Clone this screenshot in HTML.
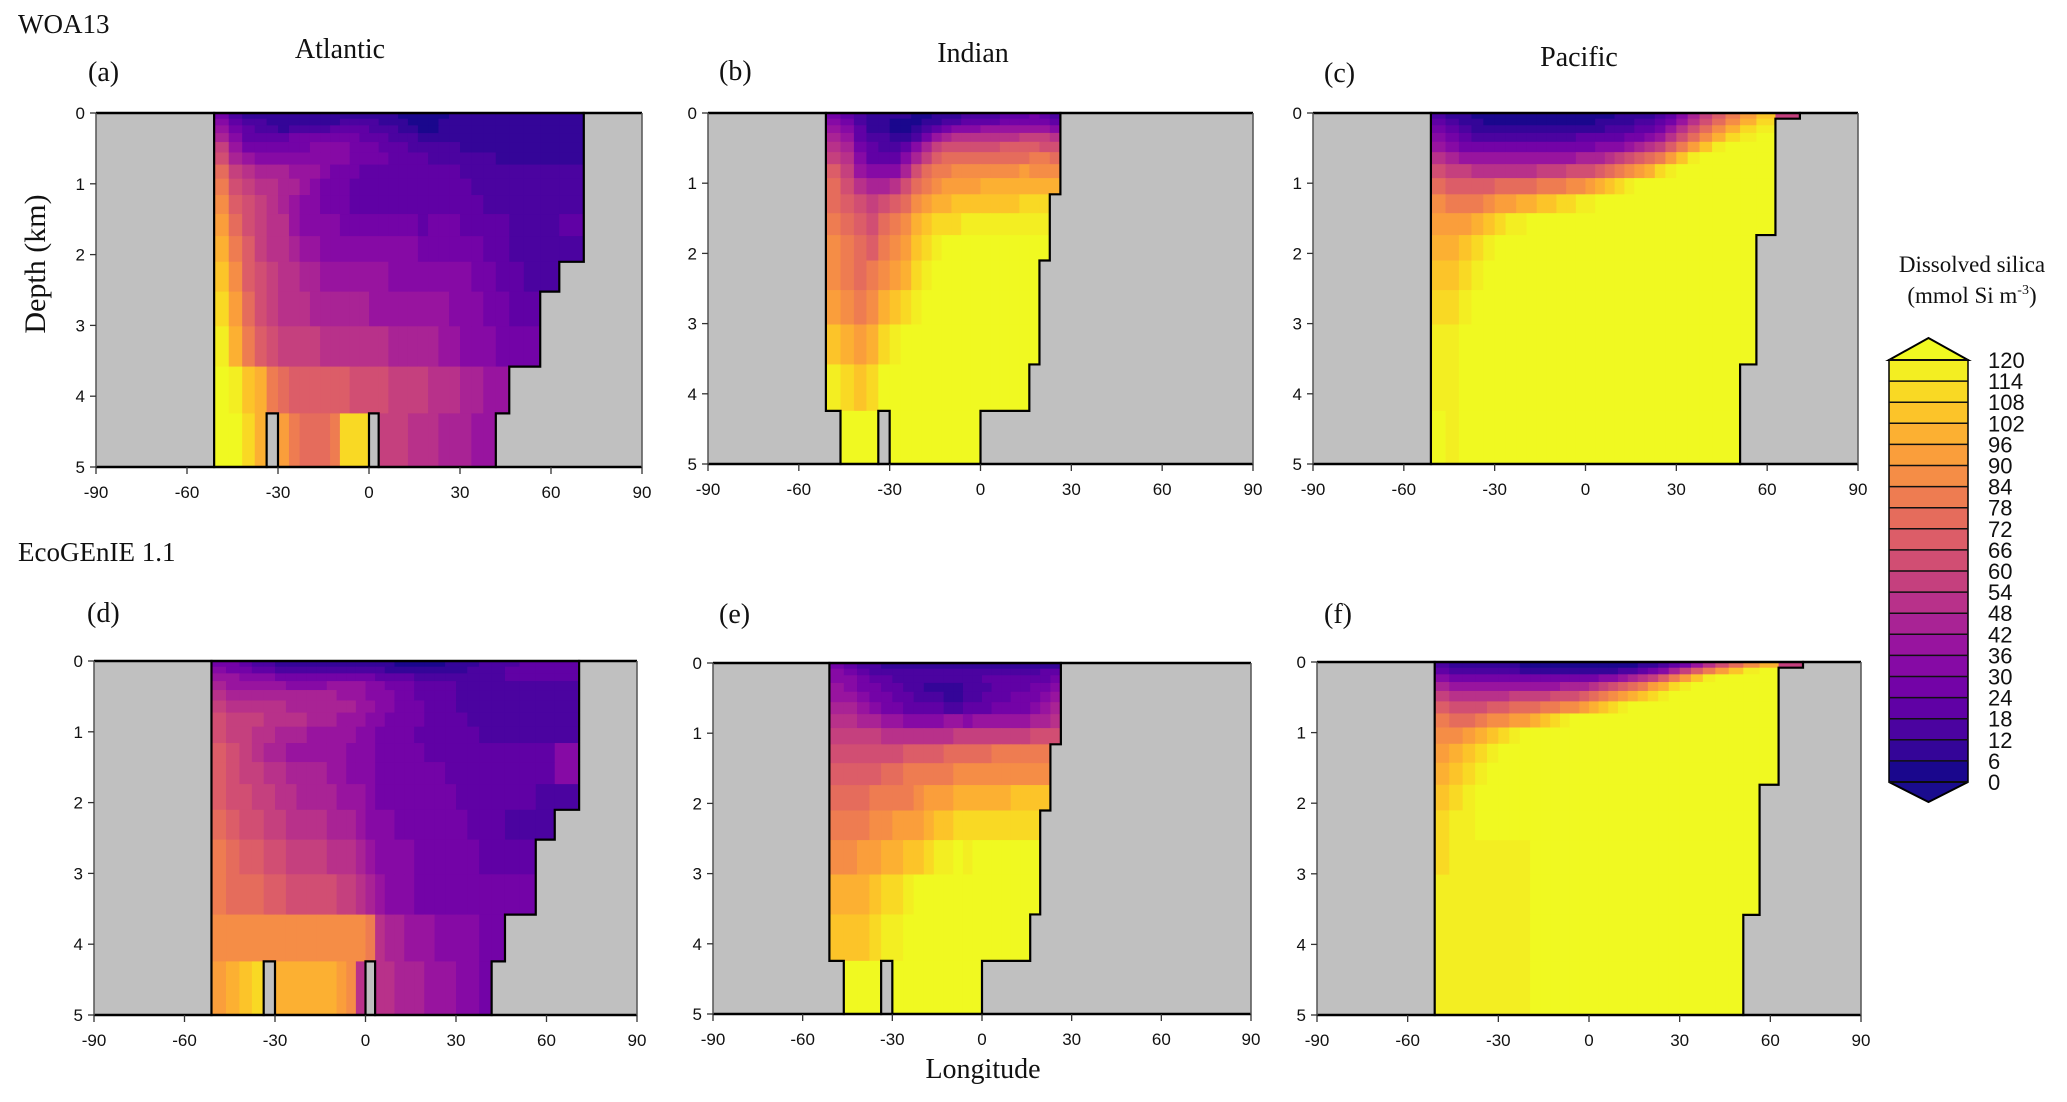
<!DOCTYPE html>
<html><head><meta charset="utf-8"><style>
html,body{margin:0;padding:0;background:#fff;}
svg{display:block;}
text{font-family:"Liberation Sans",sans-serif;fill:#111;}
.serif{font-family:"Liberation Serif",serif;}
</style></head><body>
<svg id="fig" width="2067" height="1102" viewBox="0 0 2067 1102" xmlns="http://www.w3.org/2000/svg">
<text class="serif" x="18" y="33" font-size="27">WOA13</text>
<text class="serif" x="340" y="58" font-size="28" text-anchor="middle">Atlantic</text>
<text class="serif" x="973" y="62" font-size="28" text-anchor="middle">Indian</text>
<text class="serif" x="1579" y="66" font-size="28" text-anchor="middle">Pacific</text>
<text class="serif" x="18" y="561" font-size="27">EcoGEnIE 1.1</text>
<text class="serif" x="983" y="1078" font-size="28" text-anchor="middle">Longitude</text>
<text class="serif" x="0" y="0" font-size="30" text-anchor="middle" transform="translate(45,264) rotate(-90)">Depth (km)</text>
<text class="serif" x="1972" y="272" font-size="23" text-anchor="middle">Dissolved silica</text>
<text class="serif" x="1972" y="303" font-size="23" text-anchor="middle">(mmol Si m<tspan font-size="14" dy="-9">-3</tspan><tspan dy="9">)</tspan></text>
<g id="panels"></g>
<g id="cbar"></g>
</svg>
<script>
// ---- data (codes: 0..K => bin index; value = idx*6+3) ----
const cbTicks=[0,6,12,18,24,30,36,42,48,54,60,66,72,78,84,90,96,102,108,114,120];
const xTicks=[-90,-60,-30,0,30,60,90];
const yTicks=[0,1,2,3,4,5];
const depthEdges=[0,0.0808,0.1747,0.2837,0.4104,0.5576,0.7287,0.9275,1.1585,1.4270,1.7390,2.1016,2.5230,3.0127,3.5818,4.2431,5.0];
const atlLevels=[0,0,0,0,16,16,16,16,15,16,16,16,16,16,16,16,16,16,15,16,16,16,16,16,16,16,16,16,16,16,15,14,14,12,11,0];
const indLevels=[0,0,0,0,15,16,16,16,15,16,16,16,16,16,16,16,16,16,15,15,15,15,15,14,11,8,0,0,0,0,0,0,0,0,0,0];
const pacLevels=[0,0,0,0,16,16,16,16,16,16,16,16,16,16,16,16,16,16,16,16,16,16,16,16,16,16,16,16,16,16,16,16,14,10,1,0];
const atlanticWOA=[
"4 2 1 1 1 1 1 1 1 1 1 1 1 1 1 1 1 0 0 0 0 0 1 1 1 1 1 1 1 1 1",
"5 3 2 2 1 1 1 1 1 1 1 2 2 2 2 1 1 1 0 0 0 1 1 1 1 1 1 1 1 1 1",
"6 4 3 2 2 1 2 2 2 2 3 3 3 3 2 2 2 1 1 0 0 1 1 1 1 1 1 1 1 1 1",
"7 5 3 3 3 3 4 4 4 4 4 4 4 3 3 3 2 2 2 1 1 1 1 1 1 1 1 1 1 1 1",
"9 6 4 4 4 4 4 4 5 5 5 5 4 4 4 3 3 3 2 2 2 2 2 1 1 1 1 1 1 1 1",
"A 7 6 5 5 5 5 5 5 5 5 5 4 4 4 4 3 3 3 3 2 2 2 2 2 2 1 1 1 1 1",
"C 9 8 7 7 7 6 6 6 5 4 4 4 3 3 3 3 3 3 3 3 3 3 2 2 2 2 2 2 2 2",
"D A 9 8 8 7 7 6 5 4 4 4 3 3 3 3 3 3 3 3 3 3 3 3 2 2 2 2 2 2 2",
"E B A 9 8 7 6 5 5 4 4 4 3 3 3 3 3 3 3 3 3 3 3 3 3 2 2 2 2 2 2",
"F C A 9 8 8 6 5 5 5 5 4 4 4 4 4 4 4 4 3 4 4 4 3 3 3 3 2 2 2 3",
"G D B 9 8 8 7 6 6 5 5 5 5 5 5 5 5 5 5 4 4 4 4 4 4 3 3 2 2 2 2",
"H E B A 9 8 8 7 7 6 6 6 6 6 6 6 5 5 5 5 5 5 5 5 4 4 3 3 2 2 2",
"I F C A 9 8 8 8 7 7 7 7 7 7 6 6 6 6 6 6 6 6 5 5 5 4 4 3 3 3 3",
"J G D B A 9 9 9 9 8 8 8 8 8 8 8 7 7 7 7 7 6 6 5 5 5 4 4 4 4 4",
"K J H G D C B B B B B B A A A A 9 9 9 9 8 8 8 7 7 6 6 6 6 6 6",
"K K I G G F D C C C D I I I I 9 9 9 8 8 8 7 7 7 6 6 6 6 6 6 6"];
const indianWOA=[
"4 3 2 1 1 1 1 0 0 1 1 1 2 2 2 2 3 3 3 4 3 2",
"5 4 2 1 1 0 0 0 1 1 2 2 3 3 3 3 4 4 4 4 4 3",
"6 5 3 1 1 0 0 1 2 3 4 5 5 5 6 6 6 6 6 6 6 5",
"7 6 3 2 2 1 1 2 4 6 7 8 8 8 8 8 8 8 9 9 9 8",
"8 7 4 3 2 2 3 5 7 9 A A A A A A B B B B A A",
"9 8 5 3 3 3 5 7 9 B C C C C C C C C C D D C",
"B 9 6 5 5 5 7 A C D D E E E E E E E F E E E",
"C A 8 7 7 8 A C D E F F F F G G G G G G G G",
"C B A 9 A B C E F G G H H H H H H H I I I I",
"D C B A C D E G H I I I J J J J J J J J J J",
"E D C B D E F H I J K",
"E D C D E F G I J K",
"F E D E G H I J K",
"H G F G I J K",
"J I H I K",
"K"];
const pacificWOA=[
"2 1 1 0 0 0 0 0 0 0 0 0 0 0 0 0 0 1 1 1 1 2 3 5 7 9 B D F H 9",
"3 2 1 1 0 0 0 0 0 0 0 0 0 0 0 1 1 1 1 2 2 3 4 6 8 A C E G I K",
"4 3 2 1 1 1 1 1 1 1 1 1 1 1 1 1 2 2 2 3 3 4 6 8 A C E G I J K",
"5 4 3 2 2 2 2 2 2 2 2 2 2 3 3 3 3 3 4 4 5 6 8 A C E G I J K K",
"6 5 4 4 4 4 4 4 4 4 4 4 4 4 4 5 5 5 6 7 8 9 B D F H J K",
"8 7 6 6 6 6 6 6 6 6 6 6 6 7 7 7 8 9 A B C D F H J K",
"A 9 9 8 8 8 8 8 8 9 9 9 A A A B C D E F G I J K",
"C B B B B C C C C D D D E E F G H I J K",
"E D D D E F F G G H H I I J J K",
"F F F G H I J J K",
"G G H I J K",
"H H I J K",
"I I J K",
"J J K",
"J J K",
"K J K"];
const atlanticEco=[
"4 4 3 2 2 1 1 1 1 1 1 1 1 1 1 1 1 0 0 0 0 0 1 1 1 2 2 2 3 3 3",
"5 4 4 3 3 2 2 2 2 2 2 2 2 2 2 2 1 1 1 1 1 1 1 1 2 2 2 3 3 3 3",
"6 6 5 5 5 4 4 4 4 4 4 4 4 4 4 3 3 3 3 2 2 2 2 2 2 2 2 3 3 3 3",
"7 6 6 6 6 6 5 5 5 5 6 6 6 6 5 5 4 4 4 3 3 3 3 2 2 2 2 2 2 2 2",
"8 7 7 7 7 7 7 7 7 7 7 6 6 6 5 5 5 4 4 3 3 3 3 2 2 2 2 2 2 2 2",
"9 8 8 8 8 8 7 7 7 7 7 7 7 6 6 5 5 4 4 4 3 3 3 2 2 2 2 2 2 2 2",
"A 9 9 9 8 8 8 8 7 7 7 6 6 6 5 5 4 4 4 4 3 3 3 3 2 2 2 2 2 2 2",
"A 9 9 8 8 7 7 7 6 6 6 6 6 5 5 4 4 4 4 3 3 3 3 3 3 2 2 2 2 2 2",
"B A 9 8 7 7 6 6 6 6 6 6 5 5 5 4 4 4 4 4 3 3 3 3 3 3 3 3 3 3 5",
"B A 9 9 8 8 7 7 7 7 6 6 5 5 5 4 4 4 4 4 4 4 3 3 3 3 3 3 3 3 5",
"B A A 9 9 8 8 7 7 7 7 6 6 6 5 4 4 4 4 4 4 4 4 3 3 3 3 3 3 2 2",
"C B A A 9 9 8 8 8 8 7 7 7 6 5 5 5 4 4 4 4 4 4 4 3 3 3 2 2 2 2",
"D C B B A A 9 9 9 9 8 8 8 7 6 5 5 5 5 4 4 4 4 4 4 3 3 3 3 3 3",
"D C C C B B A A A A A 9 9 8 7 6 5 5 5 4 4 4 4 4 4 4 4 4 4 4 4",
"E E E E E E E E E E E E E E D 8 7 7 6 6 6 5 5 5 5 4 4 4 4 4 4",
"F G H I F G G G G G G F E 8 8 8 8 7 7 7 6 6 6 5 5 4 4 4 4 4 4"];
const indianEco=[
"4 3 2 2 1 1 1 1 1 1 1 1 1 1 1 1 1 1 1 1 1 1",
"5 4 3 2 2 2 2 2 2 2 2 2 2 2 2 2 2 2 2 2 3 3",
"5 5 4 3 3 2 2 2 2 2 2 2 2 2 3 3 3 3 3 3 3 4",
"6 5 4 4 3 3 2 2 1 1 1 1 2 2 2 3 3 3 3 4 4 5",
"6 6 5 4 4 3 3 2 2 2 1 1 2 2 3 3 3 4 4 4 5 6",
"7 7 6 5 4 4 3 3 3 3 2 2 3 3 3 4 4 4 4 5 6 7",
"8 8 7 7 6 6 5 5 5 5 6 6 5 6 6 6 6 6 6 7 7 8",
"9 9 9 9 8 8 8 8 8 8 8 9 9 9 9 9 9 9 9 A A A",
"A A A A A A B B B B C C C C C D D D D D D D",
"B B B B C C D D D D D E E E E E E E E E E E",
"C C C D D D D E F F F G G G G G G H H H H H",
"D D D E E F F F G H H I I I I I I I I I I I",
"E E F F G G H H I J J K J K",
"G G G H I I J K",
"H H H I J J K",
"K"];
const pacificEco=[
"2 1 1 1 1 1 1 0 0 0 0 0 0 0 0 0 0 0 0 1 1 2 3 4 6 8 A C E G 9",
"3 2 2 2 2 2 2 1 1 1 1 1 1 1 1 1 1 2 2 3 4 5 7 9 B D F H J K",
"5 4 4 4 4 4 4 4 4 4 4 4 4 4 4 5 5 6 7 8 9 B D F H J K",
"7 6 6 6 6 6 6 6 6 6 6 7 7 7 8 9 A B C D F G I J K",
"9 8 8 8 8 8 9 9 9 9 A A A B C D E F G H I J K",
"B A A A B B C C C D D E E F G H I J K",
"D C C D E E F F G H I J K",
"E E F G H I J K",
"F G H I J K",
"G H I J K",
"H I J K",
"I J J K",
"I J J J J J J J K",
"J J J J J J J J K",
"J J J J J J J J K",
"J J J J J J J J K"];

// ---- rendering ----
const NS="http://www.w3.org/2000/svg";
const CODES="0123456789ABCDEFGHIJK";
const plasma=["#0d0887","#41049d","#6a00a8","#8f0da4","#b12a90","#cc4778","#e16462","#f2844b","#fca636","#fcce25","#f0f921"];
function hex(c){return [parseInt(c.substr(1,2),16),parseInt(c.substr(3,2),16),parseInt(c.substr(5,2),16)];}
function colorOf(v){
  let t=Math.max(0,Math.min(1,v/120))*10;let i=Math.min(9,Math.floor(t));let f=t-i;
  const a=hex(plasma[i]),b=hex(plasma[i+1]);
  return "rgb("+a.map((x,k)=>Math.round(x+(b[k]-x)*f)).join(",")+")";
}
function latEdge(k){return Math.asin(-1+k/18)*180/Math.PI;}
function mk(tag,attrs,parent){const e=document.createElementNS(NS,tag);for(const k in attrs)e.setAttribute(k,attrs[k]);parent.appendChild(e);return e;}
const panelsG=document.getElementById('panels');
const panels=[
 {id:'a',x0:96,x1:642,y0:113,y1:467,data:atlanticWOA,lv:atlLevels,lab:[88,81]},
 {id:'b',x0:708,x1:1253,y0:113,y1:464,data:indianWOA,lv:indLevels,lab:[719,80]},
 {id:'c',x0:1313,x1:1858,y0:113,y1:464,data:pacificWOA,lv:pacLevels,lab:[1324,82]},
 {id:'d',x0:94,x1:637,y0:661,y1:1015,data:atlanticEco,lv:atlLevels,lab:[87,622]},
 {id:'e',x0:713,x1:1251,y0:663,y1:1014,data:indianEco,lv:indLevels,lab:[719,623]},
 {id:'f',x0:1317,x1:1861,y0:662,y1:1015,data:pacificEco,lv:pacLevels,lab:[1324,623]}
];
panels.forEach(p=>{
  const g=mk('g',{},panelsG);
  
  
  const xs=lat=>p.x0+(lat+90)/180*(p.x1-p.x0);
  const ys=d=>p.y0+d/5*(p.y1-p.y0);
  const bg=mk('rect',{x:p.x0,y:p.y0,width:p.x1-p.x0,height:p.y1-p.y0,fill:'#c0c0c0'},g);
  
  
  const first=p.lv.findIndex(v=>v>0);
  const ocean=(c,r)=>c>=0&&c<36&&r>=0&&r<16&&p.lv[c]>r;
  for(let r=0;r<16;r++){
    let toks=p.data[r].trim().split(/\s+/);
    for(let c=0;c<36;c++){
      if(!ocean(c,r))continue;
      const i=c-first;const tok=i<toks.length?toks[i]:toks[toks.length-1];
      const v=CODES.indexOf(tok)*6+3;
      const x=xs(latEdge(c)),x2=xs(latEdge(c+1)),y=ys(depthEdges[r]),y2=ys(depthEdges[r+1]);
      const cell=mk('rect',{x:x.toFixed(2),y:y.toFixed(2),width:(x2-x+0.6).toFixed(2),height:(y2-y+0.6).toFixed(2),fill:colorOf(v)},g);
      
      
    }
  }
  let d='';
  for(let c=0;c<36;c++)for(let r=0;r<16;r++){
    if(!ocean(c,r))continue;
    const x=xs(latEdge(c)),x2=xs(latEdge(c+1)),y=ys(depthEdges[r]),y2=ys(depthEdges[r+1]);
    if(!ocean(c-1,r))d+=`M${x} ${y}V${y2}`;
    if(!ocean(c+1,r))d+=`M${x2} ${y}V${y2}`;
    if(r>0&&!ocean(c,r-1))d+=`M${x} ${y}H${x2}`;
    if(r<15&&!ocean(c,r+1))d+=`M${x} ${y2}H${x2}`;
  }
  const ol=mk('path',{d:d,stroke:'#000','stroke-width':2.2,fill:'none','stroke-linecap':'square'},g);
  
  
  mk('line',{x1:p.x0,y1:p.y0,x2:p.x1,y2:p.y0,stroke:'#000','stroke-width':2.5},g);
  mk('line',{x1:p.x0,y1:p.y1,x2:p.x1,y2:p.y1,stroke:'#000','stroke-width':2.5},g);
  mk('line',{x1:p.x0,y1:p.y0,x2:p.x0,y2:p.y1,stroke:'#555','stroke-width':1.5},g);
  mk('line',{x1:p.x1,y1:p.y0,x2:p.x1,y2:p.y1,stroke:'#555','stroke-width':1.5},g);
  yTicks.forEach(t=>{
    const y=ys(t);
    mk('line',{x1:p.x0-6,y1:y,x2:p.x0,y2:y,stroke:'#333','stroke-width':1.3},g);
    const tx=mk('text',{x:p.x0-11,y:y+6,'font-size':17,'text-anchor':'end'},g);
    tx.textContent=t;
    
    
  });
  xTicks.forEach(t=>{
    const x=xs(t);
    mk('line',{x1:x,y1:p.y1,x2:x,y2:p.y1+7,stroke:'#333','stroke-width':1.3},g);
    const tx=mk('text',{x:x,y:p.y1+31,'font-size':17,'text-anchor':'middle'},g);
    tx.textContent=t;
    
    
  });
  const lb=mk('text',{x:p.lab[0],y:p.lab[1],'font-size':28,class:'serif'},g);
  lb.textContent='('+p.id+')';
  
  
});
// colorbar
const cb=document.getElementById('cbar');


const cbx0=1889,cbx1=1968,cbTop=360,cbBot=782;
const cbY=v=>cbBot-(v/120)*(cbBot-cbTop);
for(let i=0;i<cbTicks.length-1;i++){
  const v0=cbTicks[i],v1=cbTicks[i+1];
  const r=mk('rect',{x:cbx0,y:cbY(v1),width:cbx1-cbx0,height:cbY(v0)-cbY(v1)+0.5,fill:colorOf((v0+v1)/2)},cb);
  
  
}
const up=mk('polygon',{points:`${cbx0},${cbTop} ${(cbx0+cbx1)/2},${cbTop-22} ${cbx1},${cbTop}`,fill:colorOf(125),stroke:'#000','stroke-width':2},cb);


const dn=mk('polygon',{points:`${cbx0},${cbBot} ${(cbx0+cbx1)/2},${cbBot+20} ${cbx1},${cbBot}`,fill:'#1a0c8e',stroke:'#000','stroke-width':2},cb);


mk('rect',{x:cbx0,y:cbTop,width:cbx1-cbx0,height:cbBot-cbTop,fill:'none',stroke:'#000','stroke-width':1.5},cb);
cbTicks.forEach(v=>{
  const y=cbY(v);
  mk('line',{x1:cbx0,y1:y,x2:cbx1,y2:y,stroke:'#111','stroke-width':1.5},cb);
  const t=mk('text',{x:1988,y:y+8,'font-size':22},cb);
  t.textContent=v;
  
  
});
</script>
</body></html>
